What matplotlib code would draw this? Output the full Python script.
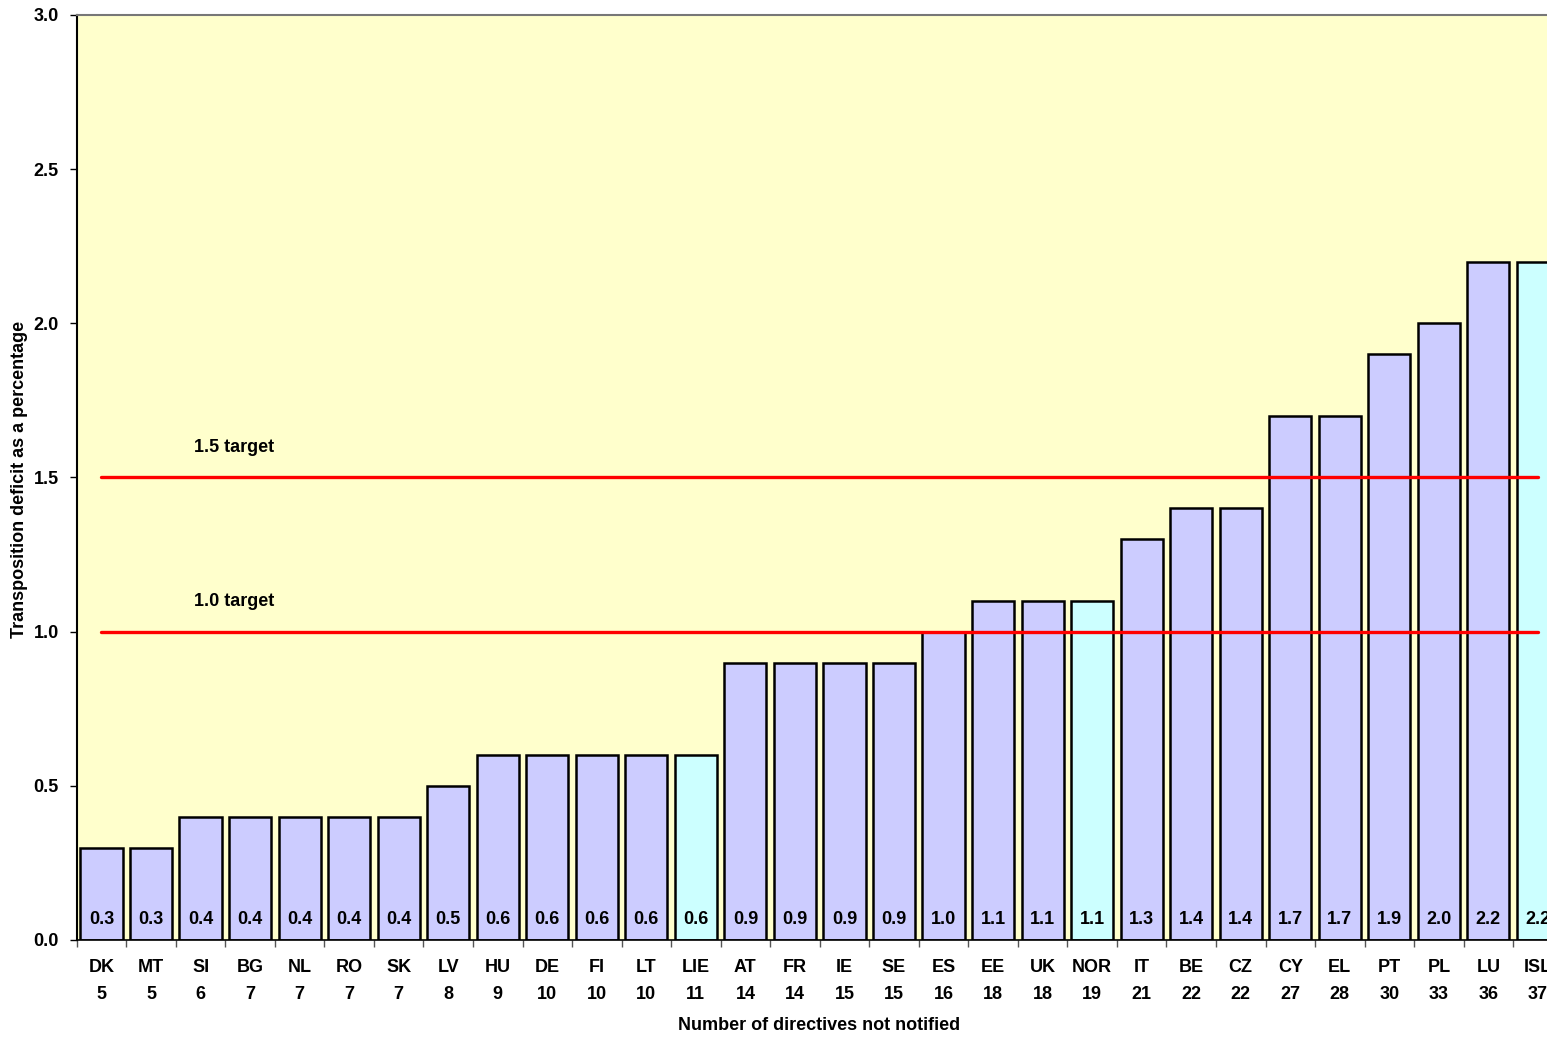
import matplotlib
matplotlib.use("Agg")
import matplotlib.pyplot as plt
import numpy as np

plt.rcParams['font.family'] = ['Liberation Sans', 'DejaVu Sans']

countries = ["DK", "MT", "SI", "BG", "NL", "RO", "SK", "LV", "HU", "DE", "FI", "LT", "LIE",
             "AT", "FR", "IE", "SE", "ES", "EE", "UK", "NOR", "IT", "BE", "CZ", "CY", "EL",
             "PT", "PL", "LU", "ISL"]
not_notified = [5, 5, 6, 7, 7, 7, 7, 8, 9, 10, 10, 10, 11, 14, 14, 15, 15, 16, 18, 18, 19,
                21, 22, 22, 27, 28, 30, 33, 36, 37]
deficit = [0.3, 0.3, 0.4, 0.4, 0.4, 0.4, 0.4, 0.5, 0.6, 0.6, 0.6, 0.6, 0.6, 0.9, 0.9, 0.9,
           0.9, 1.0, 1.1, 1.1, 1.1, 1.3, 1.4, 1.4, 1.7, 1.7, 1.9, 2.0, 2.2, 2.2]
efta = ["LIE", "NOR", "ISL"]
targets = [1.5, 1.0]

FS = 13

fig = plt.figure(figsize=(15.47, 10.37), dpi=100)
ax = fig.add_axes([76.7 / 1547, 97 / 1037, 1486 / 1547, 925 / 1037])
ax.set_facecolor("#FFFFCC")

x = np.arange(len(countries))
colors = ["#CCFFFF" if c in efta else "#CCCCFF" for c in countries]
ax.bar(x, deficit, width=0.85, color=colors, edgecolor="black", linewidth=1.8, zorder=2)

for xi, v in zip(x, deficit):
    ax.text(xi, 0.066, f"{v:.1f}", ha="center", va="center", fontsize=FS,
            fontweight="bold", zorder=4)

for t in targets:
    ax.plot([0, len(countries) - 1], [t, t], color="#FF0000", linewidth=2.4, zorder=3,
            solid_capstyle="round")
    ax.text(1.86, t + 0.097, f"{t:.1f} target", ha="left", va="center", fontsize=FS,
            fontweight="bold")

ax.set_xlim(-0.5, len(countries) - 0.5)
ax.set_ylim(0, 3.0)
ax.set_yticks(np.arange(0, 3.01, 0.5))
ax.set_yticklabels([f"{v:.1f}" for v in np.arange(0, 3.01, 0.5)], fontsize=FS,
                   fontweight="bold")
ax.set_xticks(np.arange(-0.5, len(countries) - 0.4, 1.0))
ax.set_xticklabels([])
ax.set_xticks(x, minor=True)
ax.set_xticklabels([f"{c}\n{n}" for c, n in zip(countries, not_notified)], minor=True,
                   fontsize=FS, fontweight="bold", linespacing=1.7)
ax.tick_params(axis="x", which="minor", length=0, pad=14)
ax.tick_params(axis="x", which="major", length=5, width=1, color="#555555", direction="out")
ax.tick_params(axis="y", length=5, width=1, direction="out", pad=8)

ax.spines["top"].set_color("#777777")
ax.spines["top"].set_linewidth(1.5)
ax.spines["left"].set_linewidth(1.5)
ax.spines["bottom"].set_linewidth(1.2)
ax.spines["right"].set_visible(False)

fig.text(20 / 1547, 1 - 479 / 1037, "Transposition deficit as a percentage", rotation=90,
         ha="center", va="center", fontsize=FS, fontweight="bold")
fig.text(819 / 1547, 1 - 1025 / 1037, "Number of directives not notified",
         ha="center", va="center", fontsize=FS, fontweight="bold")

fig.savefig("out.png", dpi=100)
